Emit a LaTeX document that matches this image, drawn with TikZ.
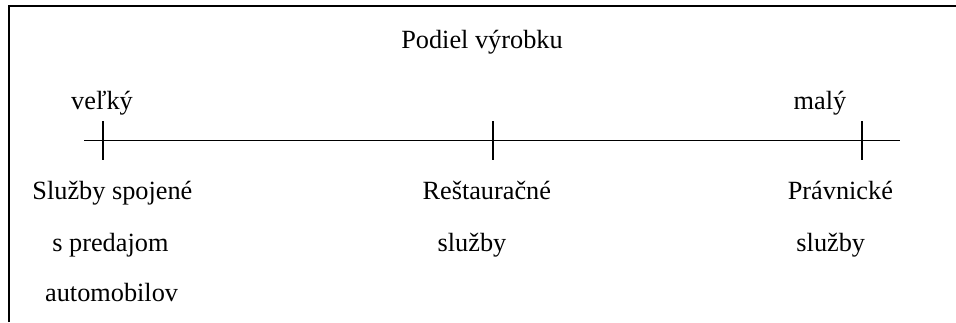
\documentclass[tikz,border=0pt]{standalone}
\usepackage{fontspec}
\setmainfont{Liberation Serif}
\usetikzlibrary{positioning}

\begin{document}
\begin{tikzpicture}
    \tikzstyle{lbl}=[anchor=base, inner sep=0pt, font=\fontsize{18.7}{22}\selectfont]
    \tikzstyle{tick}=[line width=0.3mm, color=black]

    \useasboundingbox (0, 0) rectangle (23.9, 8.05);

    % Frame (top and left side)
    \draw [line width=0.5mm, color=black] (0.225, 0) -- (0.225, 7.9) -- (23.95, 7.9);

    % Title
    \node [lbl] (title) at (12.05, 6.84) {Podiel výrobku};

    % Scale ends
    \node [lbl] (big) at (2.55, 5.32) {veľký};
    \node [lbl] (small) at (20.5, 5.32) {malý};

    % Axis
    \coordinate (axstart) at (2.1, 4.54);
    \coordinate (axend) at (22.5, 4.54);
    \draw [line width=0.3mm, color=black] (axstart) -- (axend);

    % Tick positions
    \coordinate (t1) at (2.575, 4.54);
    \coordinate (t2) at (12.325, 4.54);
    \coordinate (t3) at (21.55, 4.54);
    % Tick
    \draw [tick] ([yshift=-4.9mm]t1) -- ([yshift=4.9mm]t1);
    % Tick
    \draw [tick] ([yshift=-4.9mm]t2) -- ([yshift=4.9mm]t2);
    % Tick
    \draw [tick] ([yshift=-4.9mm]t3) -- ([yshift=4.9mm]t3);

    % Tick labels, left
    \node [lbl] (auto1) at (2.81, 3.05) {Služby spojené};
    \node [lbl] (auto2) at (2.76, 1.76) {s predajom};
    \node [lbl] (auto3) at (2.79, 0.51) {automobilov};
    % Tick labels, middle
    \node [lbl] (rest1) at (12.17, 3.05) {Reštauračné};
    \node [lbl] (rest2) at (11.8, 1.76) {služby};
    % Tick labels, right
    \node [lbl] (law1) at (21.01, 3.05) {Právnické};
    \node [lbl] (law2) at (20.77, 1.76) {služby};

\end{tikzpicture}
\end{document}
